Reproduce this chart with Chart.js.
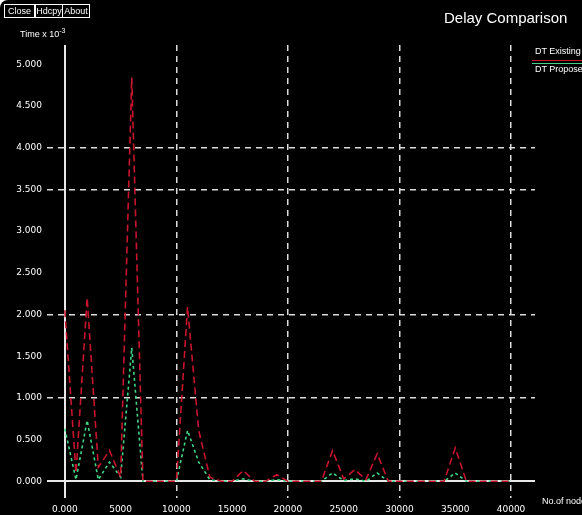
<!DOCTYPE html>
<html>
<head>
<meta charset="utf-8">
<title>Delay Comparison</title>
<script src="https://cdn.jsdelivr.net/npm/chart.js@4.4.1/dist/chart.umd.min.js"></script>
<style>
  html, body { margin: 0; padding: 0; background: #fff; }
  #frame {
    position: relative; width: 582px; height: 515px; overflow: hidden;
    background: #000; border-top-left-radius: 8px;
    font-family: 'Liberation Sans', 'DejaVu Sans', sans-serif; color: #fff;
  }
  #frame canvas { position: absolute; left: 0; top: 0; }
  .btn {
    position: absolute; top: 4px; height: 12px; line-height: 12px;
    border: 1px solid #fff; font-size: 9px; text-align: center; color: #fff;
  }
  .lbl { position: absolute; white-space: nowrap; color: #fff; }
  .leg-line { position: absolute; height: 1px; }
</style>
</head>
<body>
<div id="frame">
  <canvas id="delayChart" width="582" height="515"></canvas>
  <div class="btn" style="left:4px;width:29px;">Close</div>
  <div class="btn" style="left:35px;width:26px;">Hdcpy</div>
  <div class="btn" style="left:62px;width:26px;">About</div>
  <div class="lbl" style="left:444px;top:9px;font-size:15px;">Delay Comparison</div>
  <div class="lbl" style="left:20px;top:27px;font-size:9px;">Time x 10<sup style="font-size:7px;">-3</sup></div>
  <div class="lbl" style="left:542px;top:496px;font-size:9px;">No.of node</div>
  <div id="legend"></div>
</div>

<script>
(function () {
  'use strict';

  // x: number of nodes
  const nodeCounts = [
    0, 1000, 2000, 3000, 4000, 5000, 6000, 7000, 8000, 9000,
    10000, 11000, 12000, 13000, 14000, 15000, 16000, 17000, 18000, 19000,
    20000, 21000, 22000, 23000, 24000, 25000, 26000, 27000, 28000, 29000,
    30000, 31000, 32000, 33000, 34000, 35000, 36000, 37000, 38000, 39000,
    40000
  ];

  // delay (x 10^-3)
  const dtExisting = [
    2.05, 0.10, 2.20, 0.17, 0.37, 0.05, 4.84, 0.00, 0.00, 0.00,
    0.00, 2.09, 0.61, 0.05, 0.00, 0.00, 0.13, 0.00, 0.00, 0.08,
    0.00, 0.00, 0.00, 0.00, 0.37, 0.03, 0.14, 0.02, 0.33, 0.00,
    0.00, 0.00, 0.00, 0.00, 0.00, 0.40, 0.00, 0.00, 0.00, 0.00,
    0.00
  ];

  const dtProposed = [
    0.63, 0.02, 0.73, 0.02, 0.23, 0.05, 1.60, 0.00, 0.00, 0.00,
    0.00, 0.61, 0.23, 0.02, 0.00, 0.00, 0.03, 0.00, 0.00, 0.02,
    0.00, 0.00, 0.00, 0.00, 0.10, 0.01, 0.03, 0.00, 0.10, 0.00,
    0.00, 0.00, 0.00, 0.00, 0.00, 0.10, 0.00, 0.00, 0.00, 0.00,
    0.00
  ];

  const xTicks = [0, 5000, 10000, 15000, 20000, 25000, 30000, 35000, 40000];
  const xTickLabels = ['0.000', '5000', '10000', '15000', '20000', '25000', '30000', '35000', '40000'];
  const yTicks = [0, 0.5, 1, 1.5, 2, 2.5, 3, 3.5, 4, 4.5, 5];
  const yTickLabels = ['0.000', '0.500', '1.000', '1.500', '2.000', '2.500', '3.000', '3.500', '4.000', '4.500', '5.000'];

  // grid lines that survive in the picture
  const xGridShown = [0, 10000, 20000, 30000, 40000];
  const yGridShown = [0, 1, 2, 3.5, 4];

  const seriesNames = ['DT Existing', 'DT Proposed'];
  const seriesColors = ['#c8142c', '#3ed686'];

  const tickFont = { family: 'DejaVu Sans', size: 9 };

  function toPoints(values) {
    return values.map((v, i) => ({ x: nodeCounts[i], y: v }));
  }

  function gridColor(shown) {
    return function (ctx) {
      const v = ctx.tick ? ctx.tick.value : null;
      if (v === 0) return '#e8e8e8';
      return shown.indexOf(v) >= 0 ? '#dcdcdc' : 'rgba(0,0,0,0)';
    };
  }

  function gridDash(ctx) {
    return ctx.tick && ctx.tick.value === 0 ? [] : [6, 5];
  }

  function gridWidth(ctx) {
    return ctx.tick && ctx.tick.value === 0 ? 2 : 1.5;
  }

  function setTicks(values) {
    return function (scale) {
      scale.ticks = values.map(v => ({ value: v }));
    };
  }

  function labelFor(values, labels) {
    return function (value) {
      const i = values.indexOf(value);
      return i >= 0 ? labels[i] : '';
    };
  }

  function renderLegend() {
    const host = document.getElementById('legend');
    const rows = [
      { top: 46, lineTop: 60 },
      { top: 64, lineTop: 63 }
    ];
    seriesNames.forEach((name, i) => {
      const t = document.createElement('div');
      t.className = 'lbl';
      t.style.left = '535px';
      t.style.top = rows[i].top + 'px';
      t.style.fontSize = '9px';
      t.textContent = name;
      host.appendChild(t);

      const l = document.createElement('div');
      l.className = 'leg-line';
      l.style.left = '532px';
      l.style.width = '50px';
      l.style.top = rows[i].lineTop + 'px';
      l.style.background = seriesColors[i];
      host.appendChild(l);
    });
  }

  const ctx = document.getElementById('delayChart').getContext('2d');

  new Chart(ctx, {
    type: 'line',
    data: {
      datasets: [{
        label: seriesNames[0],
        data: toPoints(dtExisting),
        borderColor: seriesColors[0],
        borderWidth: 1.6,
        borderDash: [7, 4],
        pointRadius: 0,
        tension: 0,
        fill: false
      }, {
        label: seriesNames[1],
        data: toPoints(dtProposed),
        borderColor: seriesColors[1],
        borderWidth: 1.6,
        borderDash: [3, 3],
        pointRadius: 0,
        tension: 0,
        fill: false
      }]
    },
    options: {
      responsive: false,
      animation: false,
      layout: { padding: { left: 0, right: 47, top: 45, bottom: 0 } },
      plugins: {
        legend: { display: false },
        title: { display: false },
        tooltip: { enabled: false }
      },
      scales: {
        x: {
          type: 'linear',
          min: -1600,
          max: 42150,
          afterBuildTicks: setTicks(xTicks),
          afterFit: function (scale) { scale.height = 17; },
          grid: { color: gridColor(xGridShown), lineWidth: gridWidth, drawTicks: false },
          border: { display: false, dash: gridDash },
          ticks: {
            color: '#ffffff',
            font: tickFont,
            padding: 6,
            maxRotation: 0,
            autoSkip: false,
            callback: labelFor(xTicks, xTickLabels)
          }
        },
        y: {
          type: 'linear',
          min: -0.2,
          max: 5.23,
          afterBuildTicks: setTicks(yTicks),
          afterFit: function (scale) { scale.width = 47; },
          grid: { color: gridColor(yGridShown), lineWidth: gridWidth, drawTicks: false },
          border: { display: false, dash: gridDash },
          ticks: {
            color: '#ffffff',
            font: tickFont,
            padding: 5,
            autoSkip: false,
            callback: labelFor(yTicks, yTickLabels)
          }
        }
      }
    }
  });

  renderLegend();
})();
</script>
</body>
</html>
